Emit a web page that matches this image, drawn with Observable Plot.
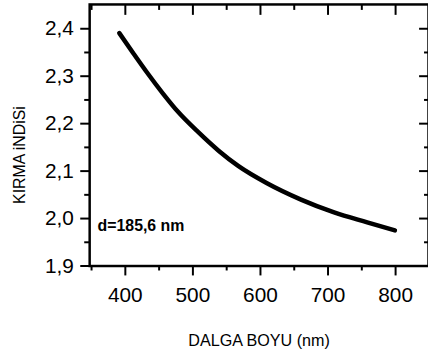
<!DOCTYPE html>
<html>
<head>
<meta charset="utf-8">
<script src="https://cdn.jsdelivr.net/npm/d3@7"></script>
<script src="https://cdn.jsdelivr.net/npm/@observablehq/plot@0.6"></script>
<style>
  html, body { margin: 0; padding: 0; background: #fff; overflow: hidden; }
  #chart { width: 428px; height: 356px; overflow: hidden; }
</style>
</head>
<body>
<div id="chart"></div>
<script>
// Wavelength (nm) and refractive index
const wavelength = [391, 412, 431, 456, 478, 508, 538, 567, 609, 660, 709, 758, 799];
const refractiveIndex = [2.391, 2.348, 2.310, 2.263, 2.225, 2.182, 2.143, 2.111, 2.075, 2.040, 2.013, 1.992, 1.975];

const xMajorTicks = [400, 500, 600, 700, 800];
const xMinorTicks = [350, 450, 550, 650, 750];
const yMajorTicks = [1.9, 2.0, 2.1, 2.2, 2.3, 2.4];
const yMinorTicks = [1.95, 2.05, 2.15, 2.25, 2.35];

const xTitle = "DALGA BOYU (nm)";
const yTitle = "KIRMA iNDiSi";
const annotation = "d=185,6 nm";

const data = wavelength.map((w, i) => ({w, n: refractiveIndex[i]}));
const fmtY = d => d.toFixed(1).replace(".", ",");
const blank = () => "";
const FONT = "'Liberation Sans', Arial, Helvetica, sans-serif";

const chart = Plot.plot({
  width: 432,
  height: 356,
  marginLeft: 90,
  marginRight: 0,
  marginTop: 4,
  marginBottom: 88,
  style: {fontFamily: FONT, background: "#fff", color: "#000"},
  x: {domain: [347.2, 848.7]},
  y: {domain: [1.9, 2.4512]},
  marks: [
    Plot.line(data, {x: "w", y: "n", stroke: "#000", strokeWidth: 4.5, strokeLinecap: "round", curve: "monotone-x"}),
    // bottom axis
    Plot.axisX({ticks: xMajorTicks, anchor: "bottom", tickSize: 10, tickPadding: 11, tickFormat: d => String(d), fontSize: 21, label: null, strokeWidth: 2}),
    Plot.axisX({ticks: xMinorTicks, anchor: "bottom", tickSize: 5, tickFormat: blank, label: null, strokeWidth: 2}),
    // top axis (inward ticks)
    Plot.axisX({ticks: xMajorTicks, anchor: "top", tickSize: -10, tickFormat: blank, label: null, strokeWidth: 2}),
    Plot.axisX({ticks: xMinorTicks, anchor: "top", tickSize: -5, tickFormat: blank, label: null, strokeWidth: 2}),
    // left axis
    Plot.axisY({ticks: yMajorTicks, anchor: "left", tickSize: 9, tickPadding: 7, tickFormat: fmtY, fontSize: 21, label: null, strokeWidth: 2}),
    Plot.axisY({ticks: yMinorTicks, anchor: "left", tickSize: 5, tickFormat: blank, label: null, strokeWidth: 2}),
    // right axis (inward ticks)
    Plot.axisY({ticks: yMajorTicks, anchor: "right", tickSize: -10, tickFormat: blank, label: null, strokeWidth: 2}),
    Plot.axisY({ticks: yMinorTicks, anchor: "right", tickSize: -5, tickFormat: blank, label: null, strokeWidth: 2}),
    Plot.frame({stroke: "#000", strokeWidth: 2.5}),
    Plot.text([yTitle], {frameAnchor: "left", textAnchor: "middle", dx: -70, dy: 20, rotate: -90, fontSize: 16, fill: "#000"}),
    Plot.text([xTitle], {frameAnchor: "bottom", dy: 81, fontSize: 16.3, fill: "#000"}),
    Plot.text([annotation], {frameAnchor: "bottom-left", textAnchor: "start", dx: 8, dy: -35, fontSize: 16, fontWeight: "bold", fill: "#000"})
  ]
});
document.getElementById("chart").appendChild(chart);
</script>
</body>
</html>
